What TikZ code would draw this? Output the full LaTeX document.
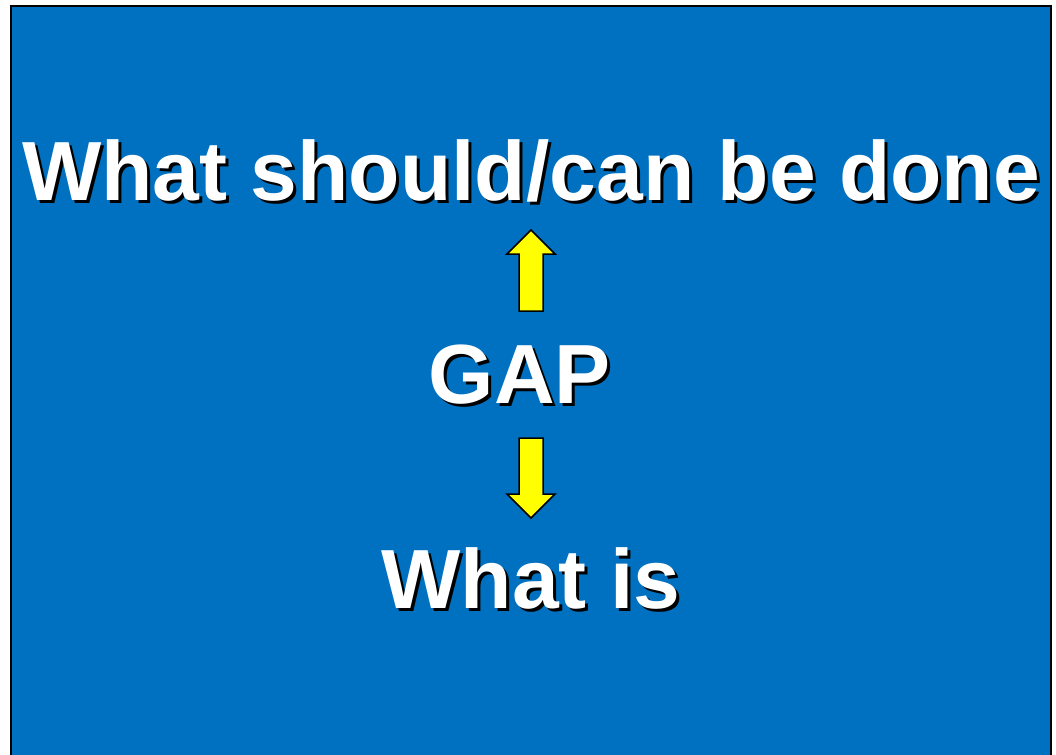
\documentclass[tikz,border=0pt]{standalone}
\usepackage{fontspec}
\setmainfont{Liberation Sans}
\definecolor{slideblue}{RGB}{0,112,192}
\definecolor{arrowyellow}{RGB}{255,255,0}
\begin{document}
\begin{tikzpicture}[x=1pt,y=-1pt,
  big/.style={font=\fontsize{84}{90}\selectfont\bfseries, inner sep=0pt, anchor=base},
  shadowtxt/.style={big, text=black},
  maintxt/.style={big, text=white},
  blockarrow/.style={draw=black, line width=1.5pt, fill=arrowyellow, line join=miter}]
\useasboundingbox (0,0) rectangle (1056,754);
\fill[white] (0,0) rectangle (1056,754);
\draw[fill=slideblue, draw=black, line width=2pt] (11,6) rectangle (1051,770);
% top text
\node[shadowtxt] (topS) at (534,203) {What should/can be done};
\node[maintxt] (top) at (531,200) {What should/can be done};
% GAP
\node[shadowtxt] (gapS) at (523,406) {GAP};
\node[maintxt] (gap) at (520,403) {GAP};
% What is
\node[shadowtxt] (botS) at (534,611) {What is};
\node[maintxt] (bot) at (531,608) {What is};
% up arrow
\draw[blockarrow] (519,311) -- (519,254) -- (507,254) -- (531,230) -- (555,254) -- (543,254) -- (543,311) -- cycle;
% down arrow
\draw[blockarrow] (519,438) -- (519,494) -- (507,494) -- (531,518) -- (555,494) -- (543,494) -- (543,438) -- cycle;
\end{tikzpicture}
\end{document}
